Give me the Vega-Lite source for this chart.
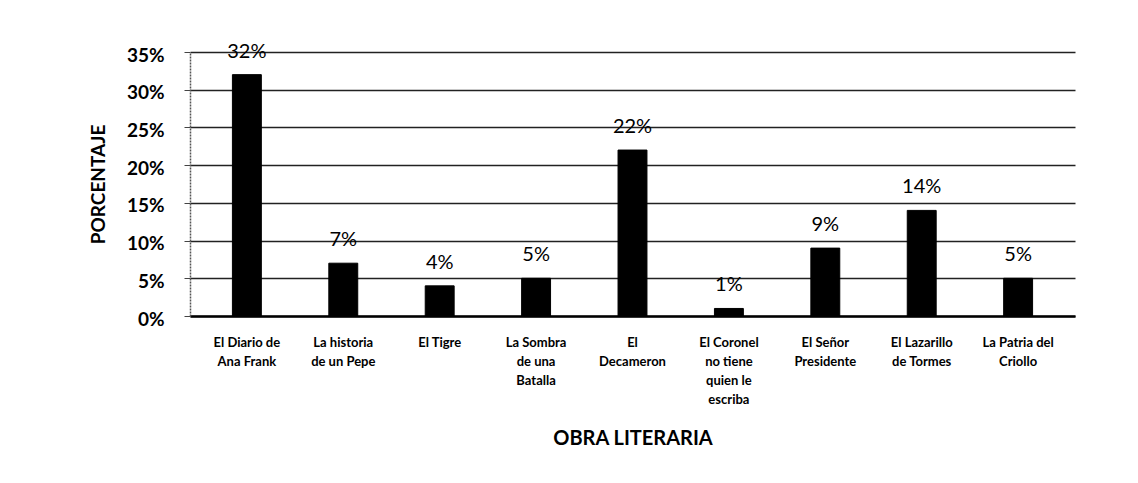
{
  "$schema": "https://vega.github.io/schema/vega-lite/v6.json",
  "width": 885,
  "height": 264,
  "autosize": "none",
  "padding": {"left": 190, "top": 52, "right": 63, "bottom": 167},
  "background": "white",
  "config": {
    "view": {"stroke": null},
    "font": "Lato"
  },
  "data": {
    "values": [
      {"obra": "El Diario de Ana Frank", "porcentaje": 0.32},
      {"obra": "La historia de un Pepe", "porcentaje": 0.07},
      {"obra": "El Tigre", "porcentaje": 0.04},
      {"obra": "La Sombra de una Batalla", "porcentaje": 0.05},
      {"obra": "El Decameron", "porcentaje": 0.22},
      {"obra": "El Coronel no tiene quien le escriba", "porcentaje": 0.01},
      {"obra": "El Señor Presidente", "porcentaje": 0.09},
      {"obra": "El Lazarillo de Tormes", "porcentaje": 0.14},
      {"obra": "La Patria del Criollo", "porcentaje": 0.05}
    ]
  },
  "encoding": {
    "x": {
      "field": "obra",
      "type": "nominal",
      "sort": null,
      "scale": {"paddingInner": 0.7, "paddingOuter": 0.44},
      "axis": {
        "title": "OBRA LITERARIA",
        "titleFont": "Lato",
        "titleFontSize": 20,
        "titleFontWeight": "bold",
        "titleColor": "#000",
        "titlePadding": 22,
        "labelAngle": 0,
        "labelFont": "Lato",
        "labelFontSize": 13,
        "labelFontWeight": "bold",
        "labelColor": "#000",
        "labelLineHeight": 19,
        "labelPadding": 20,
        "labelBaseline": "top",
        "labelExpr": "{'El Diario de Ana Frank': ['El Diario de', 'Ana Frank'], 'La historia de un Pepe': ['La historia', 'de un Pepe'], 'El Tigre': ['El Tigre'], 'La Sombra de una Batalla': ['La Sombra', 'de una', 'Batalla'], 'El Decameron': ['El', 'Decameron'], 'El Coronel no tiene quien le escriba': ['El Coronel', 'no tiene', 'quien le', 'escriba'], 'El Señor Presidente': ['El Señor', 'Presidente'], 'El Lazarillo de Tormes': ['El Lazarillo', 'de Tormes'], 'La Patria del Criollo': ['La Patria del', 'Criollo']}[datum.value]",
        "ticks": false,
        "domainColor": "#000",
        "domainWidth": 2.5
      }
    },
    "y": {
      "field": "porcentaje",
      "type": "quantitative",
      "scale": {"domain": [0, 0.35], "nice": false},
      "axis": {
        "title": "PORCENTAJE",
        "titleFont": "Lato",
        "titleFontSize": 19,
        "titleFontWeight": "bold",
        "titleColor": "#000",
        "titlePadding": 18,
        "format": ".0%",
        "values": [0, 0.05, 0.1, 0.15, 0.2, 0.25, 0.3, 0.35],
        "labelFont": "Lato",
        "labelFontSize": 19,
        "labelFontWeight": "bold",
        "labelColor": "#000",
        "labelPadding": 20,
        "labelBaseline": "middle",
        "labelOffset": 3,
        "tickColor": "#444",
        "tickSize": 6,
        "domainColor": "#555",
        "domainWidth": 1.5,
        "domainDash": [2, 1],
        "gridColor": "#222",
        "gridWidth": 1.6
      }
    }
  },
  "layer": [
    {
      "mark": {"type": "bar", "color": "#000", "stroke": "#000", "strokeWidth": 1}
    },
    {
      "mark": {"type": "text", "baseline": "bottom", "dy": -13, "font": "Lato", "fontSize": 20, "color": "#000"},
      "encoding": {
        "text": {"field": "porcentaje", "type": "quantitative", "format": ".0%"}
      }
    }
  ]
}
